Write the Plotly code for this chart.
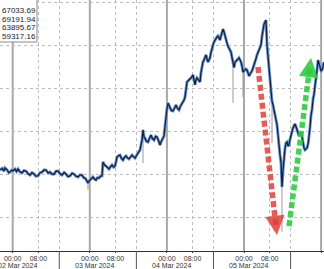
import plotly.graph_objects as go

# ---- data (hours since 02 Mar 2024 00:00, price) ----
hours = [-3.95, -3.3, -2.7, -2.4, -1.8, -1.2, -0.84, -0.3, 0.09, 0.7, 1.2, 1.65, 2.2, 2.89, 3.5, 4.14, 4.8, 5.39,
         6.0, 6.63, 7.2, 7.88, 8.5, 9.12, 9.8, 10.37, 11.0, 11.61, 12.2, 12.86, 13.5, 14.10, 14.7, 15.35, 16.0,
         16.59, 17.2, 17.84, 18.5, 19.08, 19.7, 20.33, 21.0, 21.57, 22.1, 22.51, 23.0, 23.44, 23.8, 24.06, 24.6,
         25.0, 25.5, 25.93, 26.4, 26.86, 27.3, 27.80,
         28.11, 28.6, 29.04, 29.5, 29.98, 30.5, 30.91, 31.4, 31.84, 32.2, 32.47, 33.0, 33.40, 33.9, 34.34, 34.8,
         35.27, 35.7, 36.20, 36.7, 37.14, 37.6, 38.07, 38.5, 39.01, 39.3, 39.63, 40.0, 40.25, 40.56, 40.9, 41.19,
         41.6, 42.12, 42.6, 43.05, 43.5, 43.99, 44.5, 44.92, 45.4, 45.86, 46.2, 46.48, 46.8, 47.10, 47.4, 47.72,
         48.0, 48.35, 48.7, 48.97, 49.4, 49.90, 50.4, 50.84, 51.3, 51.77, 52.2, 52.70, 53.0, 53.33, 53.64, 53.9,
         54.26, 54.7, 55.20, 55.7, 56.13, 56.4, 56.75, 57.0, 57.37, 57.8, 58.31, 58.6, 58.93, 59.2, 59.55, 59.9,
         60.17, 60.5, 60.80, 61.1, 61.42, 61.7, 62.04, 62.4, 62.66, 63.0, 63.29, 63.6, 63.91, 64.2, 64.53, 64.8,
         65.16, 65.47, 65.8, 66.09, 66.4, 66.71, 67.0, 67.33, 67.6, 67.96, 68.3, 68.58, 68.9, 69.20, 69.5, 69.82,
         70.1, 70.45, 70.8, 71.07, 71.4, 71.69, 72.0, 72.31, 72.6, 72.94, 73.2, 73.56, 73.9, 74.18, 74.5, 74.80,
         75.1, 75.43, 75.7, 76.05, 76.4, 76.67, 77.0, 77.29, 77.6, 77.92, 78.2, 78.54, 78.85, 79.16, 79.5, 79.79,
         80.1, 80.41, 80.7, 81.03, 81.3, 81.65, 82.0, 82.28, 82.6, 82.90, 83.2, 83.52, 83.83, 84.15, 84.5, 84.77,
         85.1, 85.39, 85.7, 86.01, 86.3, 86.64, 87.0, 87.26, 87.6, 87.88, 88.2, 88.50, 88.8, 89.13, 89.4, 89.75,
         90.1, 90.37, 90.7, 90.99, 91.3, 91.62, 92.0, 92.24, 92.5, 92.86, 93.17, 93.5, 93.79, 94.1, 94.42, 94.7,
         95.04, 95.3, 95.66, 96.0, 96.29, 96.6, 96.91]
prices = [62190, 62260, 62140, 62280, 62200, 62060, 62090, 62180, 62140, 62230, 62120, 62230, 62110, 62050, 62160,
          62140, 62010, 61950, 62060, 62000, 61900, 61910, 62060, 62090, 62190, 62180, 62050, 62090, 62000, 61990,
          62130, 62140, 62020, 61950, 62070, 62000, 61880, 61910, 62030, 62000, 61900, 61860, 61960, 61950, 61830,
          61810, 61700, 61580, 61680, 61720, 61820, 61860, 61760, 61720, 61830, 61810, 61900, 61910,
          62560, 62420, 62370, 62300, 62230, 62350, 62420, 62320, 62370, 62600, 62790, 62860, 62880, 62720, 62650,
          62780, 62840, 62750, 62700, 62800, 62880, 62800, 62740, 62850, 62980, 63050, 63120, 63400, 63580, 64050,
          63700, 63670, 63520, 63490, 63700, 63810, 63650, 63580, 63750, 63720, 63550, 63350, 63500, 63580, 63720,
          63770, 64200, 64740, 65000, 65300, 65150, 65070, 64950, 64930, 65100, 65210, 65050, 64980, 65150, 65260,
          65350, 65440, 65580, 65900, 66280, 66350, 66420, 66500, 66610, 66300, 66140, 66350, 66470, 66380, 66280,
          66700, 67070, 67200, 67300, 67450, 67540, 67350, 67210, 67300, 67400, 67650, 67910, 68020, 68140, 68250,
          68330, 68380, 68420, 68300, 68230, 68400, 68560, 68740, 68600, 68470, 68250, 68090, 67950, 67860, 67780,
          67670, 67400, 67160, 66950, 67200, 67260, 67300, 67350, 67400, 67300, 67210, 67000, 66740, 66800, 66840,
          66880, 66840, 66700, 66560, 66650, 66700, 66800, 66930, 67050, 67160, 67350, 67540, 67650, 67770, 67900,
          68000, 68400, 68790, 68950, 69070, 69160, 68000, 67400, 66740, 66200, 65670, 65400, 65210, 65000, 64740,
          64500, 64280, 63800, 63210, 62900, 62510, 61400, 62190, 63000, 63210, 63450, 63490, 63300, 63350, 63600,
          63810, 64000, 64140, 64250, 64330, 64200, 64050, 63900, 63770, 63850, 63910, 63700, 63350, 63200, 63120,
          63150, 63210, 63450, 63670, 64100, 64740, 65000, 65500, 65700, 66100, 66370, 66800, 67300, 67200, 66980,
          66800, 66840, 67000, 67200]

# spikes (grey wicks): hour, from price, to price
wick_hours = [23.44, 40.56, 68.58, 71.69, 80.72, 83.83]
wick_from = [61580, 64050, 67160, 66740, 65440, 61400]
wick_to = [61256, 62512, 65302, 65581, 63442, 59317.16]

legend_values = ["67033.69", "69191.94", "63895.67", "59317.16"]

day_hours = [0, 24, 48, 72, 96]
day_labels = ["02 Mar 2024", "03 Mar 2024", "04 Mar 2024", "05 Mar 2024", "06 Mar 2024"]
tick_hours = [0, 8, 24, 32, 48, 56, 72, 80, 96]
tick_text = ["00:00", "08:00"] * 4 + ["00:00"]
session_hours = [14.5, 38.5, 62.5, 86.5]

# arrows: (start hour, start price) -> (tip hour, tip price)
red_arrow = [(76.36, 66977), (82.27, 59163)]
green_arrow = [(86.01, 59581), (92.86, 67395)]

X_RANGE = [-3.953, 96.9]
Y_RANGE = [58419, 70093]
W, H, B = 324, 269, 18
PH = H - B

fig = go.Figure()

wx, wy = [], []
for h, a, b in zip(wick_hours, wick_from, wick_to):
    wx += [h, h, None]
    wy += [a, b, None]
fig.add_trace(go.Scatter(x=wx, y=wy, mode="lines", line=dict(color="#9a9a9a", width=1),
                         hoverinfo="skip", showlegend=False))
fig.add_trace(go.Scatter(x=hours, y=prices, mode="lines", line=dict(color="#6f9ad8", width=3),
                         hoverinfo="skip", showlegend=False))
fig.add_trace(go.Scatter(x=hours, y=prices, mode="lines", line=dict(color="#14223d", width=1.3),
                         showlegend=False))

shapes = []
for d in day_hours:
    shapes.append(dict(type="line", xref="x", yref="paper", x0=d, x1=d, y0=0, y1=1,
                       line=dict(color="#a8a8a8", width=2), layer="below"))
for s in session_hours:
    shapes.append(dict(type="line", xref="x", yref="paper", x0=s, x1=s, y0=0, y1=-B / PH,
                       line=dict(color="#555555", width=1), layer="above"))

annotations = []


def add_arrow(pts, color):
    (x0, y0), (x1, y1) = pts
    # shaft stops a little before the tip; head drawn by annotation
    f = 0.95
    xm = x0 + (x1 - x0) * f
    ym = y0 + (y1 - y0) * f
    shapes.append(dict(type="line", xref="x", yref="y", x0=x0, y0=y0, x1=xm, y1=ym,
                       line=dict(color=color, width=5.5, dash="6px,3px"), layer="above"))
    annotations.append(dict(x=x1, y=y1, ax=xm, ay=ym, xref="x", yref="y", axref="x", ayref="y",
                            text="", showarrow=True, arrowhead=2, arrowsize=0.7, arrowwidth=5.5,
                            arrowcolor=color, standoff=0))


add_arrow(red_arrow, "rgba(226,62,56,0.85)")
add_arrow(green_arrow, "rgba(46,204,64,0.9)")

# value box
shapes.append(dict(type="rect", xref="paper", yref="paper", x0=-0.02, x1=37 / W, y0=1 - 42 / PH, y1=1.02,
                   line=dict(color="#8a8a8a", width=1), fillcolor="white", layer="above"))
for i, v in enumerate(legend_values):
    annotations.append(dict(x=0, y=1 - (11 + 8.4 * i) / PH, xref="paper", yref="paper", xanchor="left",
                            yanchor="middle", xshift=0, text=v, showarrow=False,
                            font=dict(size=8, color="#222222", family="Liberation Sans")))

for d, lab in zip(day_hours, day_labels):
    annotations.append(dict(x=d + 1.5, y=-(265.5 - PH) / PH, xref="x", yref="paper", xanchor="center",
                            yanchor="middle", text=lab, showarrow=False,
                            font=dict(size=7, color="#333333", family="Liberation Sans")))

fig.update_layout(
    width=W, height=H, margin=dict(l=0, r=0, t=0, b=B),
    paper_bgcolor="white", plot_bgcolor="white",
    shapes=shapes, annotations=annotations,
    xaxis=dict(range=X_RANGE, tickmode="array", tickvals=tick_hours, ticktext=tick_text,
               showgrid=False, zeroline=False, showline=True, linecolor="#333333", linewidth=1,
               ticks="outside", ticklen=1, tickcolor="#333333",
               tickfont=dict(size=7, color="#333333", family="Liberation Sans"),
               minor=dict(tickmode="array", tickvals=[8, 14.5, 32, 38.5, 56, 62.5, 80, 86.5],
                          showgrid=True, griddash="dot", gridcolor="#bdbdbd", gridwidth=1, ticks="")),
    yaxis=dict(range=Y_RANGE, tick0=0, dtick=2000, showgrid=True, griddash="dot", gridcolor="#bdbdbd",
               gridwidth=1, showticklabels=False, zeroline=False, showline=False),
)

fig.write_html("out.html")
